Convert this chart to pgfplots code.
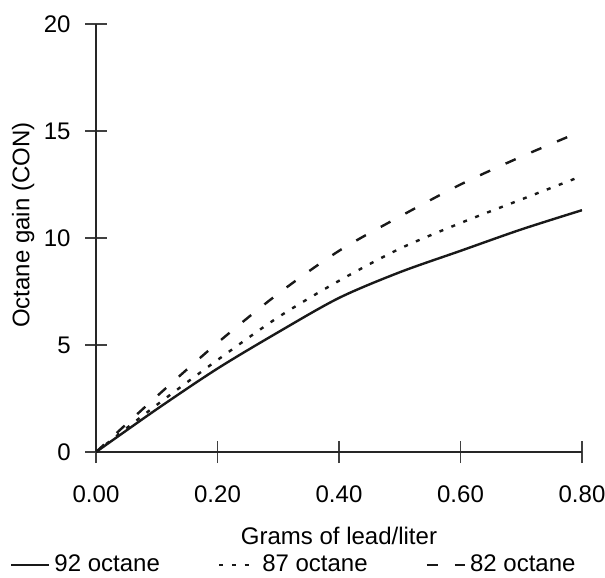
\documentclass[border=0pt]{standalone}
\usepackage{fontspec}
\setmainfont{Liberation Sans}
\usepackage{pgfplots}
\pgfplotsset{compat=1.18}
\usetikzlibrary{calc}

\begin{document}
\fontsize{12}{14}\selectfont
\begin{tikzpicture}
\begin{axis}[
    name=ax,
    scale only axis,
    width=243pt, height=214pt,
    xmin=0, xmax=0.8, ymin=0, ymax=20,
    axis x line=bottom, axis y line=left,
    axis line style={-, line width=1.1pt, black!85},
    xtick={0,0.2,0.4,0.6,0.8},
    xticklabels={0.00,0.20,0.40,0.60,0.80},
    ytick={0,5,10,15,20},
    tick align=center,
    major tick length=11pt,
    tick style={line width=0.8pt, black!75},
    /pgf/number format/assume math mode=true,
    xticklabel style={yshift=-7pt},
    yticklabel style={anchor=east, xshift=-3pt},
    xlabel={Grams of lead/liter},
    ylabel={Octane gain (CON)},
    xlabel style={at={(axis description cs:0.5,-0.195)}, anchor=center},
    ylabel style={at={(axis description cs:-0.15,0.53)}, anchor=center, rotate=0},
    legend columns=3,
    legend style={draw=none, fill=none, at={(axis description cs:-0.19,-0.264)},
                  anchor=west, /tikz/every even column/.append style={column sep=27pt}},
    legend image code/.code={\draw[#1] (0pt,0pt) -- (19pt,0pt);},
]
\addplot[black!90, line width=1.2pt, solid, smooth]
    coordinates {(0,0) (0.1,2.0) (0.2,3.9) (0.3,5.6) (0.4,7.2) (0.5,8.4) (0.6,9.4) (0.7,10.4) (0.8,11.3)};
\addlegendentry{92 octane}
\addplot[black!90, line width=1.2pt, dash pattern=on 2pt off 4.4pt, smooth]
    coordinates {(0,0) (0.1,2.2) (0.2,4.3) (0.3,6.3) (0.4,8.0) (0.5,9.5) (0.6,10.7) (0.7,11.8) (0.8,12.9)};
\addlegendentry{87 octane}
\addplot[black!90, line width=1.2pt, dash pattern=on 5.5pt off 8.5pt, smooth]
    coordinates {(0,0) (0.1,2.6) (0.2,5.1) (0.3,7.4) (0.4,9.4) (0.5,11.0) (0.6,12.5) (0.7,13.8) (0.8,15.0)};
\addlegendentry{82 octane}
\end{axis}
\pgfresetboundingbox
\path[use as bounding box] ($(ax.south west)+(-48pt,-62.5pt)$) rectangle ($(ax.north east)+(11.5pt,12pt)$);
\end{tikzpicture}
\end{document}
